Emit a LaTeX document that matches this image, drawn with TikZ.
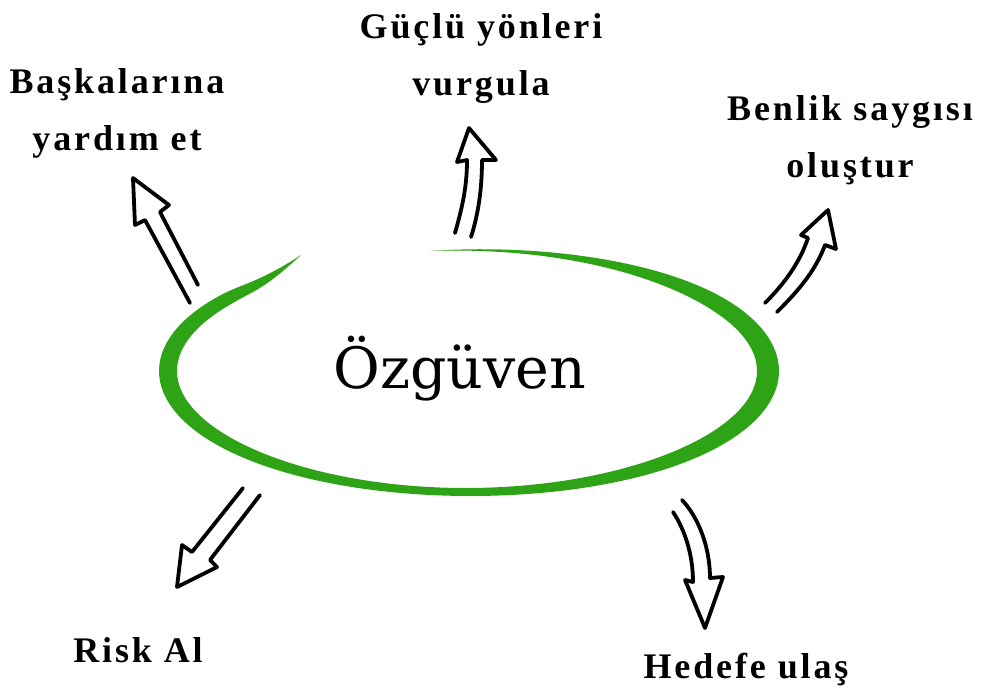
\documentclass[tikz,border=0pt]{standalone}
\usepackage{fontspec}
\newfontfamily\lblfont[LetterSpace=8]{Liberation Serif}
\newfontfamily\ctrfont{DejaVu Serif}
\definecolor{ozgreen}{RGB}{46,163,22}
\begin{document}
\begin{tikzpicture}[x=1pt,y=-1pt,
  lbl/.style={font=\lblfont\bfseries\fontsize{36}{57}\selectfont, align=center, inner sep=0pt, anchor=base},
  hollow/.style={draw=black, line width=3.8pt, line join=round, line cap=round},
  declare function={
    kk(\t)=1+0.11*(max(0,138-\t)/18)^2;
    ww(\t)=(14+6*cos(2*(\t-180))+2*cos(\t))*sin(90*min(1,(\t-120)/26))*sin(90*min(1,(457.3-\t)/70));
  }]
\useasboundingbox[fill=white] (0,0) rectangle (981,688);

% green brush ellipse
\fill[ozgreen] plot[domain=120:457.3,samples=220,variable=\t]
   ({468+(300*kk(\t)+ww(\t)/2)*cos(\t)},{371-(121*kk(\t)+ww(\t)/2)*sin(\t)})
 -- plot[domain=457.3:120,samples=220,variable=\t]
   ({468+(300*kk(\t)-ww(\t)/2)*cos(\t)},{371-(121*kk(\t)-ww(\t)/2)*sin(\t)}) -- cycle;

\node[font=\ctrfont\fontsize{57}{60}\selectfont, inner sep=0pt, anchor=base] (ozguven) at (460,388) {Özgüven};

% hollow arrows
\draw[hollow] (190,303) -- (145,220) -- (135,225) -- (133,178) -- (169,205) -- (160,212) -- (198,285);
\draw[hollow] (455,233) .. controls (463,205) and (467,185) .. (467,160) -- (457,162) -- (469,128) -- (496,160) -- (482,160) .. controls (482,190) and (478,215) .. (471,237);
\draw[hollow] (765,303) .. controls (785,283) and (800,262) .. (808,238) -- (801,235) -- (828,210) -- (836,249) -- (825,245) .. controls (815,272) and (797,292) .. (777,312);
\draw[hollow] (243,488) -- (192,552) -- (182,545) -- (177,587) -- (217,567) -- (210,560) -- (260,495);
\draw[hollow] (673,512) .. controls (685,530) and (693,555) .. (693,582) -- (685,580) -- (705,628) -- (723,577) -- (710,578) .. controls (710,548) and (699,518) .. (682,500);

% labels (base anchor = baseline of the last line)
\node[lbl] (baskalarina) at (117,150) {Başkalarına\\yardım et};
\node[lbl] (guclu) at (481,95) {Güçlü yönleri\\vurgula};
\node[lbl] (benlik) at (850,177) {Benlik saygısı\\oluştur};
\node[lbl] (risk) at (138,662) {Risk Al};
\node[lbl] (hedefe) at (746,678) {Hedefe ulaş};
\end{tikzpicture}
\end{document}
